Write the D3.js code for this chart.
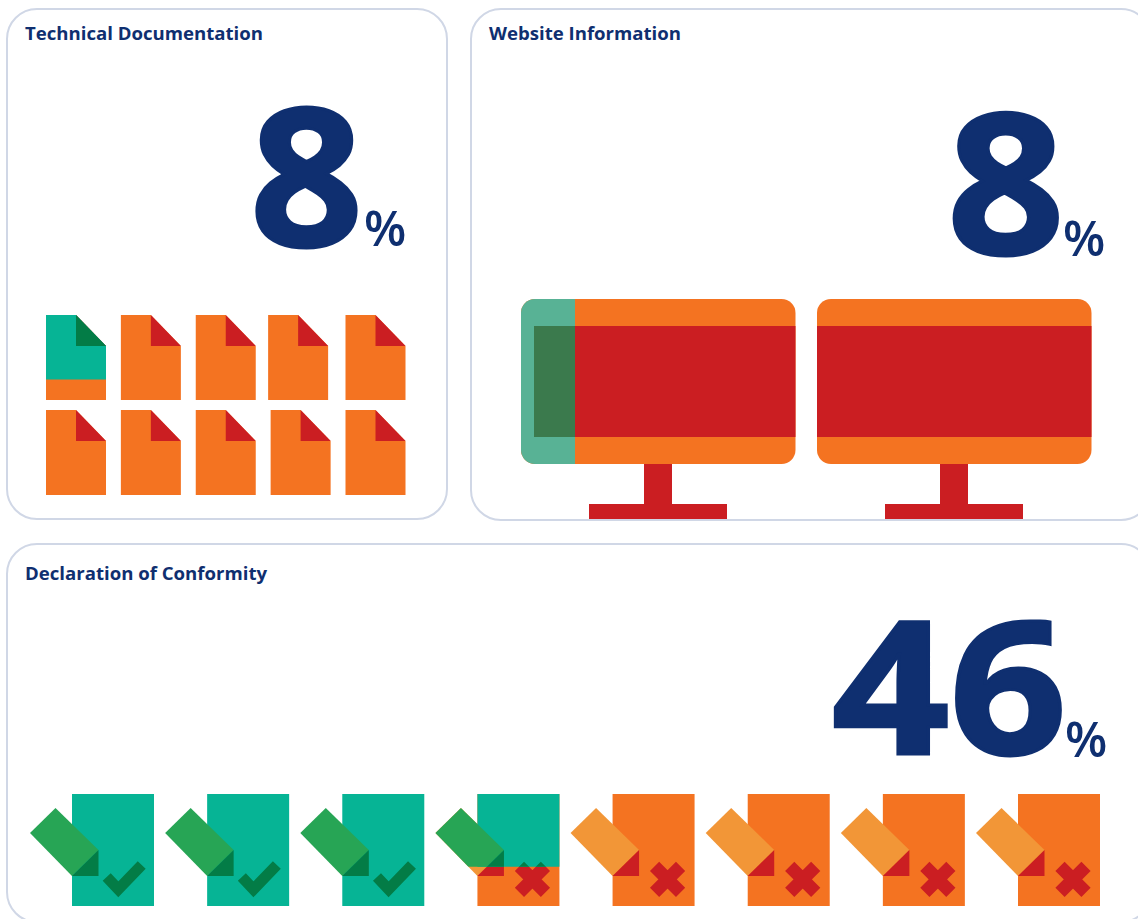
<!DOCTYPE html>
<html>
<head>
<meta charset="utf-8">
<script src="https://cdn.jsdelivr.net/npm/d3@7"></script>
<style>
body { margin: 0; background: #fff; }
svg { display: block; }
text { font-family: "Open Sans", sans-serif; fill: #0f2f70; }
</style>
</head>
<body>
<div id="chart"></div>
<script>
var width = 1138;
var height = 919;

// values
var titles = ["Technical Documentation", "Website Information", "Declaration of Conformity"];
var percents = [8, 8, 46];
// how much of each icon is filled green
var docFill = [0.76, 0, 0, 0, 0, 0, 0, 0, 0, 0];
var screenFill = [0.197, 0];
var declFill = [1, 1, 1, 0.65, 0, 0, 0, 0];

var teal = "#06b495", darkGreen = "#037c46", green = "#27a555";
var orange = "#f47321", red = "#cb1e22", lightOrange = "#f29637";
var clipId = 0;

var svg = d3.select("#chart")
    .append("svg")
    .attr("width", width)
    .attr("height", height);

function panel(x, y, w, h) {
    svg.append("rect")
        .attr("x", x).attr("y", y)
        .attr("width", w).attr("height", h)
        .attr("rx", 30)
        .attr("fill", "#fff")
        .attr("stroke", "#d0d7e6")
        .attr("stroke-width", 2);
}

// stretch = horizontal squeeze of the digits, the original font is wider
function bigNumber(i, x, base, size, stretch, pctX, pctBase, pctSize) {
    svg.append("text").text(titles[i])
        .attr("x", i == 1 ? 489 : 25)
        .attr("y", i == 2 ? 580 : 40)
        .attr("font-size", 18.6)
        .attr("font-weight", 700);
    svg.append("text").text(percents[i])
        .attr("transform", "translate(" + x + "," + base + ") scale(" + stretch + ",1)")
        .attr("font-size", size)
        .attr("font-weight", 700)
        .attr("stroke", "#0f2f70")
        .attr("stroke-width", 3);
    svg.append("text").text("%")
        .attr("x", pctX).attr("y", pctBase)
        .attr("font-size", pctSize)
        .attr("font-weight", 600);
}

// clip rectangle, returns url for clip-path
function clip(x, y, w, h) {
    var id = "clip" + (clipId++);
    svg.append("clipPath").attr("id", id)
        .append("rect")
        .attr("x", x).attr("y", y)
        .attr("width", w).attr("height", h);
    return "url(#" + id + ")";
}

function drawDoc(g, x, y, w, h, body, fold) {
    var cut = 30;
    g.append("path")
        .attr("d", d3.line()([[x, y], [x + w - cut, y], [x + w, y + cut + 1], [x + w, y + h], [x, y + h]]))
        .attr("fill", body);
    g.append("path")
        .attr("d", d3.line()([[x + w - cut, y], [x + w, y + cut + 1], [x + w - cut, y + cut + 1]]))
        .attr("fill", fold);
}

// top panel left: two rows of pages
function drawDocs() {
    var col = d3.scalePoint().domain(d3.range(5)).range([46, 345.5]);
    var row = d3.scalePoint().domain(d3.range(2)).range([315, 410]);
    var docW = 60, docH = 85;
    var fillH = d3.scaleLinear().domain([0, 1]).range([0, docH]);

    docFill.forEach(function(f, i) {
        var x = col(i % 5), y = row(Math.floor(i / 5));
        if (i == 3) x -= 2.5; // this page sits a bit left in the original
        drawDoc(svg.append("g"), x, y, docW, docH, orange, red);
        if (f > 0) {
            var top = svg.append("g").attr("clip-path", clip(x, y, docW, fillH(f)));
            drawDoc(top, x, y, docW, docH, teal, darkGreen);
        }
    });
}

function drawMonitor(g, x, w, body, screen, inset) {
    g.append("rect")
        .attr("x", x).attr("y", 299)
        .attr("width", w).attr("height", 165)
        .attr("rx", 14)
        .attr("fill", body);
    g.append("rect")
        .attr("x", x + inset).attr("y", 326)
        .attr("width", w - inset).attr("height", 111)
        .attr("fill", screen);
}

function drawMonitors() {
    var col = d3.scalePoint().domain(d3.range(2)).range([521, 817]);
    var monW = 274.5;
    var fillW = d3.scaleLinear().domain([0, 1]).range([0, monW]);

    screenFill.forEach(function(f, i) {
        var x = col(i);
        var g = svg.append("g");
        g.append("rect").attr("x", x + 123).attr("y", 464)
            .attr("width", 28).attr("height", 42).attr("fill", red);
        g.append("rect").attr("x", x + 68).attr("y", 504)
            .attr("width", 138).attr("height", 15).attr("fill", red);
        drawMonitor(g, x, monW, orange, red, 0);
        if (f > 0) {
            var top = svg.append("g").attr("clip-path", clip(x, 299, fillW(f), 165));
            drawMonitor(top, x, monW, "#58b295", "#3b7a4d", 13);
        }
    });
}

function drawDecl(g, x, y, body, tag, dark, passed) {
    g.append("rect")
        .attr("x", x).attr("y", y)
        .attr("width", 82).attr("height", 112)
        .attr("fill", body);
    g.append("path")
        .attr("d", d3.line()([[x - 42, y + 39], [x - 16.5, y + 14], [x + 26.5, y + 56], [x, y + 82]]))
        .attr("fill", tag);
    g.append("path")
        .attr("d", d3.line()([[x + 26.5, y + 56], [x + 26.5, y + 82], [x, y + 82]]))
        .attr("fill", dark);
    if (passed) {
        g.append("path")
            .attr("d", d3.line()([[x + 34.7, y + 83], [x + 46.3, y + 95.3], [x + 69.7, y + 71]]))
            .attr("fill", "none")
            .attr("stroke", dark)
            .attr("stroke-width", 11);
    } else {
        var cx = x + 55, cy = y + 85.3, r = 13;
        g.append("path")
            .attr("d", "M" + (cx - r) + "," + (cy - r) + "L" + (cx + r) + "," + (cy + r) +
                "M" + (cx + r) + "," + (cy - r) + "L" + (cx - r) + "," + (cy + r))
            .attr("fill", "none")
            .attr("stroke", dark)
            .attr("stroke-width", 13);
    }
}

function drawDecls() {
    var col = d3.scalePoint().domain(d3.range(8)).range([72, 1018]);
    var y = 794;
    var fillH = d3.scaleLinear().domain([0, 1]).range([0, 112]);

    declFill.forEach(function(f, i) {
        var x = col(i);
        if (f < 1) drawDecl(svg.append("g"), x, y, orange, lightOrange, red, false);
        if (f > 0) {
            var top = svg.append("g").attr("clip-path", clip(x - 45, y, 130, fillH(f)));
            drawDecl(top, x, y, teal, green, darkGreen, f == 1);
        }
    });
}

panel(7, 9, 440, 510);
panel(471, 9, 680, 511);
panel(7, 544, 1144, 378);

bigNumber(0, 250, 245.5, 192, 1.03, 364, 246, 49);
bigNumber(1, 947, 253.5, 196, 1.05, 1063, 256, 49);
bigNumber(2, 832, 753.5, 185, 1.11, 1065, 757, 49);

drawDocs();
drawMonitors();
drawDecls();
</script>
</body>
</html>
